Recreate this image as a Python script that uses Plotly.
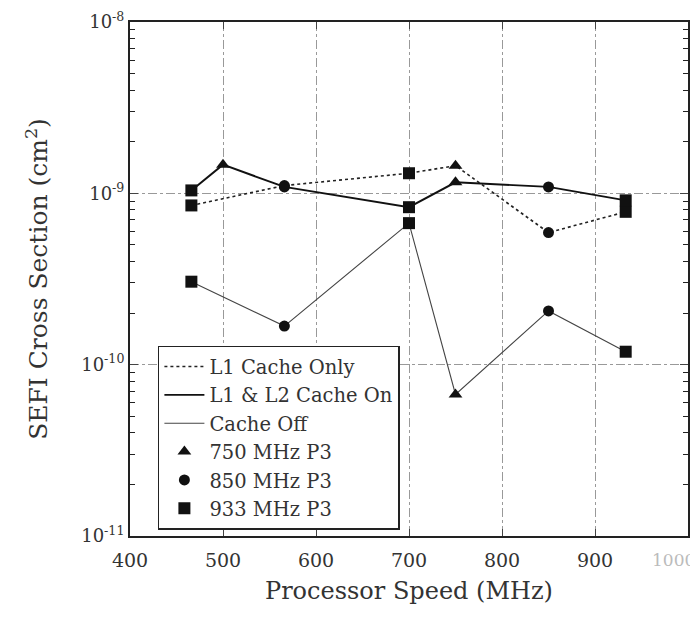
import plotly.graph_objects as go

speeds = [466, 500, 566, 700, 750, 850, 933]
cpu_type = ["933 MHz P3", "750 MHz P3", "850 MHz P3", "933 MHz P3", "750 MHz P3", "850 MHz P3", "933 MHz P3"]

l1_only = [8.5e-10, None, 1.11e-9, 1.31e-9, 1.45e-9, 5.9e-10, 7.8e-10]
l1_l2_on = [1.04e-9, 1.47e-9, 1.09e-9, 8.3e-10, 1.16e-9, 1.09e-9, 9.1e-10]
cache_off = [3.05e-10, None, 1.68e-10, 6.7e-10, 6.7e-11, 2.06e-10, 1.19e-10]

series = [
    ("L1 Cache Only", l1_only, dict(color="#222", width=1.6, dash="dot")),
    ("L1 & L2 Cache On", l1_l2_on, dict(color="#111", width=1.9)),
    ("Cache Off", cache_off, dict(color="#444", width=1.1)),
]
marker_types = [("750 MHz P3", "triangle-up", 12), ("850 MHz P3", "circle", 11), ("933 MHz P3", "square", 12)]

x_ticks = [400, 500, 600, 700, 800, 900]
x_last_tick = 1000
y_ticks = [1e-11, 1e-10, 1e-9, 1e-8]
y_tick_text = ["10<sup>-11</sup>", "10<sup>-10</sup>", "10<sup>-9</sup>", "10<sup>-8</sup>"]
y_minor = [k * 10.0 ** e for e in (-11, -10, -9) for k in range(2, 10)]

fig = go.Figure()
for name, vals, line in series:
    xs = [s for s, v in zip(speeds, vals) if v is not None]
    ys = [v for v in vals if v is not None]
    fig.add_trace(go.Scatter(x=xs, y=ys, mode="lines", name=name, line=line))

for name, sym, size in marker_types:
    xs, ys = [], []
    for _, vals, _l in series:
        for s, t, v in zip(speeds, cpu_type, vals):
            if v is not None and t == name:
                xs.append(s)
                ys.append(v)
    fig.add_trace(go.Scatter(x=xs, y=ys, mode="markers", name=name,
                             marker=dict(symbol=sym, size=size, color="#111")))

font = "DejaVu Serif, Liberation Serif, serif"
fig.update_layout(
    width=698, height=624,
    margin=dict(l=122, r=18, t=14, b=96),
    paper_bgcolor="white", plot_bgcolor="white",
    font=dict(family=font, color="#333"),
    showlegend=True,
    legend=dict(x=0.05, y=0.37, xanchor="left", yanchor="top",
                bgcolor="white", bordercolor="#222", borderwidth=1.5,
                font=dict(size=19.5, family=font, color="#333"),
                tracegroupgap=0, itemwidth=40),
)
fig.add_annotation(x=x_last_tick, y=0, xref="x", yref="paper", xanchor="right", yanchor="top",
                   xshift=9, yshift=-12, text=str(x_last_tick), showarrow=False,
                   font=dict(size=17, color="#bbb"))
fig.update_xaxes(
    range=[400, 1000], tickvals=x_ticks + [x_last_tick], ticktext=[str(v) for v in x_ticks] + [""],
    ticks="inside", ticklen=7, automargin=False, ticklabelstandoff=6,
    tickfont=dict(size=19), showline=True, linecolor="#222", linewidth=2,
    mirror="ticks", showgrid=True, gridcolor="#999", griddash="dashdot", gridwidth=1,
    zeroline=False,
    title=dict(text="Processor Speed (MHz)", font=dict(size=24), standoff=12),
)
fig.update_yaxes(
    type="log", range=[-11, -8], tickvals=y_ticks, ticktext=y_tick_text,
    ticks="inside", ticklen=8, tickfont=dict(size=18), automargin=False,
    showline=True, linecolor="#222", linewidth=2, mirror="ticks",
    showgrid=True, gridcolor="#999", griddash="dashdot", gridwidth=1,
    minor=dict(tickvals=y_minor, ticks="inside", ticklen=5, tickcolor="#222", showgrid=False),
    title=dict(text="SEFI Cross Section (cm<sup>2</sup>)", font=dict(size=25), standoff=26),
)
fig.write_html("out.html")
